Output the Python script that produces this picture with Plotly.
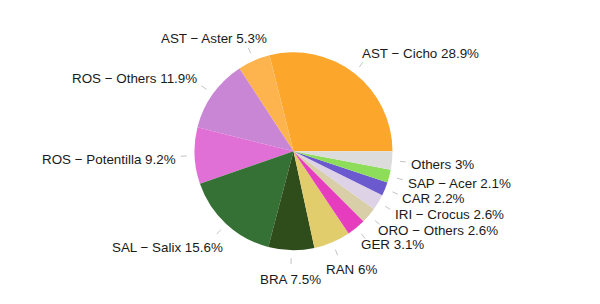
import math
import plotly.graph_objects as go

# ---- data ----
names = ["AST − Cicho", "AST − Aster", "ROS − Others", "ROS − Potentilla",
         "SAL − Salix", "BRA", "RAN", "GER", "ORO − Others", "IRI − Crocus",
         "CAR", "SAP − Acer", "Others"]
values = [28.9, 5.3, 11.9, 9.2, 15.6, 7.5, 6, 3.1, 2.6, 2.6, 2.2, 2.1, 3]
colors = ["#FCA72C", "#FDB44F", "#C886D4", "#E070D5", "#357034", "#2F4C1B",
          "#E2CD6D", "#E63DBE", "#D8CFA8", "#DED3E6", "#6A5ACD", "#8DDC5A",
          "#DCDCDC"]

# ---- layout geometry ----
W, H = 600, 304
CX, CY, R = 293.5, 151.3, 99.0
FS = 13.4

# approximate Arial widths (per 1000 em)
AW = {' ': 278, 'A': 667, 'S': 667, 'T': 611, 'C': 722, 'R': 722, 'O': 778,
      'B': 667, 'N': 722, 'G': 778, 'E': 667, 'I': 278, 'P': 667, 'L': 556,
      'a': 556, 'c': 500, 'e': 556, 'h': 556, 'i': 222, 'l': 222, 'n': 556,
      'o': 556, 'r': 333, 's': 500, 't': 278, 'x': 500, '.': 278, '%': 889,
      '−': 584}


def text_width(s):
    return sum(AW.get(ch, 556) for ch in s) * FS / 1000.0


def to_paper(px, py):
    return px / W, 1 - py / H


total = sum(values)
# first slice starts at 3 o'clock and runs counterclockwise;
# plotly's rotation marks the end of the first slice in ccw mode
rotation = 90 - values[0] / total * 360

fig = go.Figure()
fig.add_trace(go.Pie(
    labels=names, values=values, sort=False, direction="counterclockwise",
    rotation=rotation, textinfo="none", hoverinfo="label+percent",
    marker=dict(colors=colors, line=dict(width=0)),
    domain=dict(x=[(CX - R) / W, (CX + R) / W],
                y=[1 - (CY + R) / H, 1 - (CY - R) / H]),
    showlegend=False,
))

cum = 0.0
shapes = []
annotations = []
for name, v in zip(names, values):
    mid = (cum + v / 2) / total * 2 * math.pi
    cum += v
    c, s = math.cos(mid), math.sin(mid)
    # leader tick
    x0, y0 = to_paper(CX + 1.08 * R * c, CY - 1.08 * R * s)
    x1, y1 = to_paper(CX + 1.14 * R * c, CY - 1.14 * R * s)
    shapes.append(dict(type="line", xref="paper", yref="paper",
                       x0=x0, y0=y0, x1=x1, y1=y1,
                       line=dict(color="#C4C4C4", width=1)))
    label = f"{name} {v:g}%"
    w = text_width(label)
    h = 15.0
    kx = 0.75 if s > 0 else 0.6
    ax = min(1.0, max(0.0, 0.5 - c * kx))
    if c > 0.5 and s < 0:
        ay = 0.5  # right-hand stack: labels centred on their ray
    else:
        ay = min(1.0, max(0.0, 0.5 + s * 0.75))
    apx = CX + 1.19 * R * c
    apy = CY - 1.19 * R * s
    left = apx - ax * w
    top = apy - ay * h + 2.5
    tx, ty = to_paper(left + w / 2, top + h / 2)
    annotations.append(dict(text=label, x=tx, y=ty, xref="paper", yref="paper",
                            xanchor="center", yanchor="middle", showarrow=False,
                            font=dict(family="Liberation Sans, Arial", size=FS,
                                      color="#1A1A1A")))

fig.update_layout(
    width=W, height=H, margin=dict(l=0, r=0, t=0, b=0),
    paper_bgcolor="white", plot_bgcolor="white",
    shapes=shapes, annotations=annotations,
)
fig.write_html("out.html")
